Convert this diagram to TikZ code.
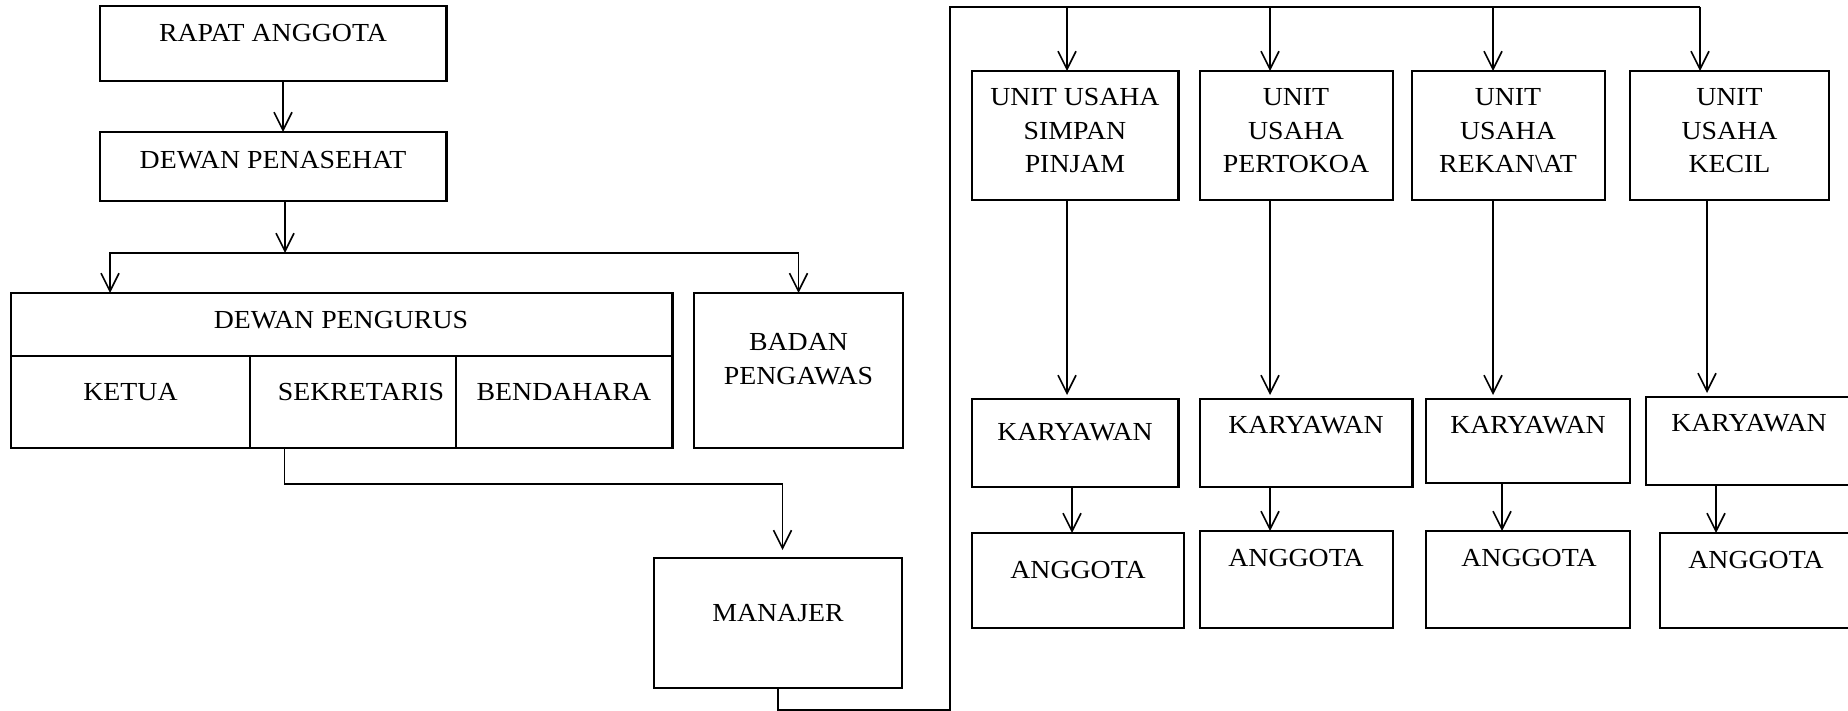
\documentclass[tikz,border=0pt]{standalone}
\usepackage{fontspec}
\setmainfont{Liberation Serif}[FakeStretch=1.07]
\usetikzlibrary{arrows.meta,fit}
\tikzset{garis/.style={line width=0.8pt},
  panah/.style={garis,-{Straight Barb[length=9pt,width=9pt]}},
  kotak/.style={draw,line width=1.1pt,inner sep=0pt,outer sep=0pt},
  teks/.style={font=\fontsize{13}{16.75}\selectfont,align=center,inner sep=0pt}}
\newcommand{\kotak}[5]{\node[kotak,fit={(#2) (#3)}] (#1) {}; \node[teks] (#1-t) at (#4) {#5};}

\begin{document}
\begin{tikzpicture}[x=0.5pt,y=-0.5pt]
\useasboundingbox (0,0) rectangle (1848,711);
\kotak{rapat}{100,6}{446.5,81}{273,33}{RAPAT ANGGOTA}
\kotak{penasehat}{100,132}{446.5,201}{273,160}{DEWAN PENASEHAT}
\kotak{pengurus}{11,293}{672.5,356}{341,320}{DEWAN PENGURUS}
\kotak{ketua}{11,356}{250,448}{130.5,392}{KETUA}
\kotak{sek}{250,356}{456,448}{361,392}{SEKRETARIS}
\kotak{bendahara}{456,356}{672.5,448}{564,392}{BENDAHARA}
\draw[line width=1.1pt] (sek.south east) -- ++(16,0);
\kotak{badan}{694,293}{903,448}{798.5,359}{BADAN\\PENGAWAS}
\kotak{manajer}{654,558}{902,688}{778,613}{MANAJER}
\kotak{u1}{972,71}{1178.5,200}{1075,131}{UNIT USAHA\\SIMPAN\\PINJAM}
\kotak{u2}{1200,71}{1393,200}{1296,131}{UNIT\\USAHA\\PERTOKOA}
\kotak{u3}{1412,71}{1605,200}{1508,131}{UNIT\\USAHA\\REKAN\textbackslash AT}
\kotak{u4}{1630,71}{1829,200}{1729.5,131}{UNIT\\USAHA\\KECIL}
\kotak{k1}{972,399}{1178.5,487}{1075,432}{KARYAWAN}
\kotak{k2}{1200,399}{1412.5,487}{1306,425}{KARYAWAN}
\kotak{k3}{1426,399}{1630,483}{1528,425}{KARYAWAN}
\kotak{k4}{1646,397}{1852,485}{1749,423}{KARYAWAN}
\kotak{a1}{972,533}{1184,628}{1078,570}{ANGGOTA}
\kotak{a2}{1200,531}{1393,628}{1296,558}{ANGGOTA}
\kotak{a3}{1426,531}{1630,628}{1529,558}{ANGGOTA}
\kotak{a4}{1660,533}{1852,628}{1756,560}{ANGGOTA}

\coordinate (cabang) at (285,253);
\coordinate (atas0) at (950,7);
\draw[panah] (rapat.south -| 283,0) -- (penasehat.north -| 283,0);
\draw[panah] (penasehat.south -| 285,0) -- (cabang);
\draw[panah] (cabang) -| (pengurus.north -| 110,0);
\draw[panah] (cabang) -| (badan.north);
\draw[panah,shorten >=4pt] (sek.south -| 284.5,0) -- ++(0,36) -| (manajer.north -| 782.5,0);
\draw[garis] (manajer.south) -- ++(0,22) -| (atas0) -- (1700,7);
\foreach \i/\xa/\xb/\xc in {1/1067/1067/1072,2/1270/1270/1270,3/1493/1493/1502,4/1700/1707/1716}{
  \draw[panah] (atas0 -| \xa,0) -- (u\i.north -| \xa,0);
  \draw[panah,shorten >=2pt] (u\i.south -| \xb,0) -- (k\i.north -| \xb,0);
  \draw[panah] (k\i.south -| \xc,0) -- (a\i.north -| \xc,0);
}
\end{tikzpicture}
\end{document}
